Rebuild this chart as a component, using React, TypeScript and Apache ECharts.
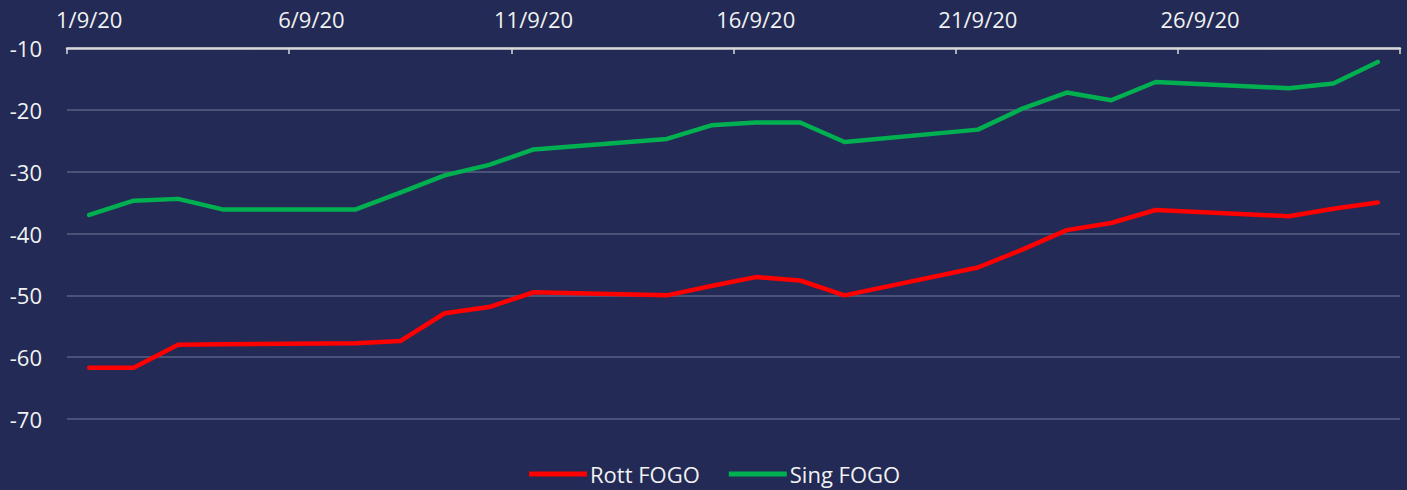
import React, { useEffect, useRef } from "react";
import * as echarts from "echarts";

const categories = [
  "1/9/20", "2/9/20", "3/9/20", "4/9/20", "5/9/20", "6/9/20", "7/9/20", "8/9/20", "9/9/20", "10/9/20",
  "11/9/20", "12/9/20", "13/9/20", "14/9/20", "15/9/20", "16/9/20", "17/9/20", "18/9/20", "19/9/20", "20/9/20",
  "21/9/20", "22/9/20", "23/9/20", "24/9/20", "25/9/20", "26/9/20", "27/9/20", "28/9/20", "29/9/20", "30/9/20",
];

const rottFogo = [
  -61.7, -61.7, -58.0, -57.9, null, null, -57.75, -57.4, -52.9, -51.9,
  -49.5, null, null, -50.0, -48.5, -47.05, -47.6, -50.0, null, null,
  -45.5, -42.6, -39.45, -38.3, -36.2, null, null, -37.2, -36.0, -35.0,
];

const singFogo = [
  -37.0, -34.7, -34.4, -36.1, null, null, -36.1, -33.4, -30.6, -28.9,
  -26.4, null, null, -24.7, -22.5, -22.05, -22.05, -25.2, null, null,
  -23.2, -19.8, -17.2, -18.45, -15.5, null, null, -16.5, -15.75, -12.25,
];

const yMin = -70;
const yMax = -10;
const yStep = 10;

const FONT = "'Open Sans', sans-serif";
const TEXT = "#f2f2f2";

export default function App() {
  const ref = useRef<HTMLDivElement>(null);

  useEffect(() => {
    if (!ref.current) return;
    const chart = echarts.init(ref.current, undefined, { renderer: "svg" });
    chart.setOption({
      animation: false,
      backgroundColor: "#222a55",
      textStyle: { fontFamily: FONT },
      grid: { left: 67, right: 7, top: 48, bottom: 71, containLabel: false },
      legend: {
        left: 524,
        top: 458,
        icon: "rect",
        itemWidth: 58,
        itemHeight: 5,
        itemGap: 29,
        textStyle: { color: TEXT, fontSize: 22, fontFamily: FONT, padding: [0, 0, 0, -2] },
        data: ["Rott FOGO", "Sing FOGO"],
      },
      xAxis: {
        type: "category",
        position: "top",
        data: categories,
        boundaryGap: true,
        axisLine: { show: true, lineStyle: { color: "#d9d9d9", width: 2.5 } },
        axisTick: { show: true, inside: true, length: 6, interval: 4, lineStyle: { color: "#d9d9d9", width: 1.5 } },
        axisLabel: { interval: 4, color: TEXT, fontSize: 22, fontFamily: FONT, margin: 18 },
        splitLine: { show: false },
      },
      yAxis: {
        type: "value",
        min: yMin,
        max: yMax,
        interval: yStep,
        axisLine: { show: false },
        axisTick: { show: false },
        axisLabel: { color: TEXT, fontSize: 22, fontFamily: FONT, margin: 25 },
        splitLine: { show: true, lineStyle: { color: "#5a6083", width: 1.5 } },
      },
      series: [
        {
          name: "Rott FOGO",
          type: "line",
          data: rottFogo,
          connectNulls: true,
          showSymbol: false,
          symbol: "none",
          color: "#ff0000",
          lineStyle: { color: "#ff0000", width: 4.5, cap: "round", join: "round" },
        },
        {
          name: "Sing FOGO",
          type: "line",
          data: singFogo,
          connectNulls: true,
          showSymbol: false,
          symbol: "none",
          color: "#00b050",
          lineStyle: { color: "#00b050", width: 4.5, cap: "round", join: "round" },
        },
      ],
    });
    return () => chart.dispose();
  }, []);

  return (
    <div
      ref={ref}
      style={{ position: "fixed", left: 0, top: 0, width: 1407, height: 490 }}
    />
  );
}
